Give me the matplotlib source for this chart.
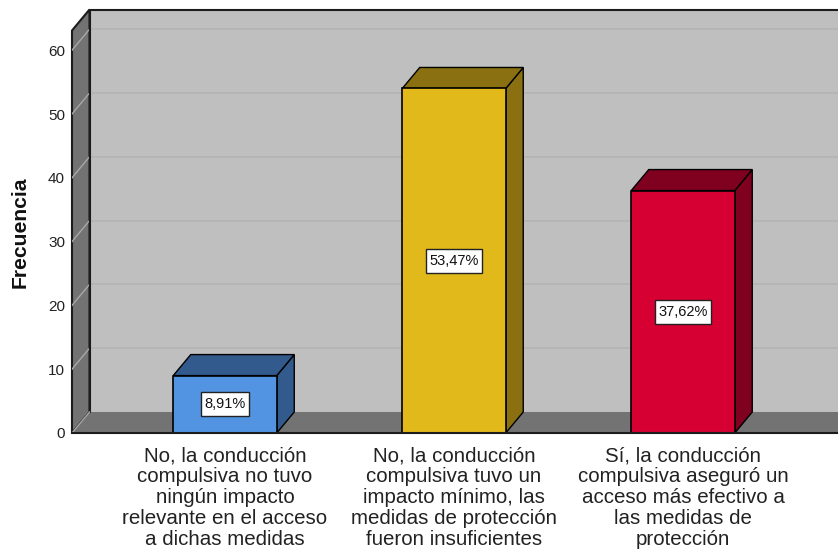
import matplotlib
matplotlib.use('Agg')
import matplotlib.pyplot as plt
from matplotlib.patches import Polygon, Rectangle

plt.rcParams['font.family'] = ['Liberation Sans', 'DejaVu Sans']

# chart data
categories = [
    "No, la conducción\ncompulsiva no tuvo\nningún impacto\nrelevante en el acceso\na dichas medidas",
    "No, la conducción\ncompulsiva tuvo un\nimpacto mínimo, las\nmedidas de protección\nfueron insuficientes",
    "Sí, la conducción\ncompulsiva aseguró un\nacceso más efectivo a\nlas medidas de\nprotección",
]
frequencies = [9, 54, 38]
percent_labels = ["8,91%", "53,47%", "37,62%"]
y_ticks = [0, 10, 20, 30, 40, 50, 60]

front_colors = ['#5294E2', '#E1B91B', '#D60032']
shade_colors = ['#325A8C', '#8A7010', '#80001F']

W, H = 838, 549
X0, X1, Y0, YTOP = 72, 838, 433, 9.5   # plot box in pixels
PX_Y = 6.38   # pixels per frequency unit
PX_X = 229    # pixels per category step
CENTER0 = 225

# depth of the fake 3D box, in data units
dx = 17.5 / PX_X
dy = 21 / PX_Y
bar_w = 103.5 / PX_X
box_h = 24 / PX_Y

fig = plt.figure(figsize=(W / 100, H / 100), dpi=100)
ax = fig.add_axes([X0 / W, 1 - Y0 / H, (X1 - X0) / W, (Y0 - YTOP) / H])
xmin = (X0 - CENTER0) / PX_X
xmax = (X1 - CENTER0) / PX_X
ymax = (Y0 - YTOP) / PX_Y
ax.set_xlim(xmin, xmax)
ax.set_ylim(0, ymax)
ax.set_facecolor('white')
for s in ax.spines.values():
    s.set_visible(False)

edge = '#1c1c1c'
ytop_front = ymax - dy

# back wall, side wall, floor
ax.add_patch(Polygon([(xmin + dx, dy), (xmax, dy), (xmax, ymax), (xmin + dx, ymax)],
                     fc='#BFBFBF', ec='none', zorder=1))
ax.add_patch(Polygon([(xmin, 0), (xmin + dx, dy), (xmin + dx, ymax), (xmin, ytop_front)],
                     fc='#737373', ec=edge, lw=1.5, zorder=2, clip_on=False))
ax.add_patch(Polygon([(xmin, 0), (xmax, 0), (xmax, dy), (xmin + dx, dy)],
                     fc='#737373', ec='none', zorder=2, clip_on=False))

# gridlines on the back wall and their continuation on the side wall
for t in y_ticks[1:]:
    ax.plot([xmin + dx, xmax], [t + dy, t + dy], color='#B2B2B2', lw=1.1, zorder=1.5)
    ax.plot([xmin, xmin + dx], [t, t + dy], color='#A8A8A8', lw=1.0, zorder=3)

ax.plot([xmin + dx, xmax], [ymax, ymax], color=edge, lw=1.5, zorder=3, clip_on=False)
ax.plot([xmin, xmax], [0, 0], color=edge, lw=1.5, zorder=6, clip_on=False)
ax.plot([xmin + dx, xmin + dx], [dy, ymax], color=edge, lw=1.5, zorder=3)
ax.plot([xmin, xmin + dx], [0, dy], color='#A8A8A8', lw=1, zorder=3)

# bars
xpos = list(range(len(frequencies)))
ax.bar(xpos, frequencies, width=bar_w, color=front_colors, edgecolor='black', linewidth=1.2, zorder=5)
renderer = fig.canvas.get_renderer()
for i, v in enumerate(frequencies):
    l = i - bar_w / 2
    r = i + bar_w / 2
    ax.add_patch(Polygon([(r, 0), (r + dx, dy), (r + dx, v + dy), (r, v)],
                         fc=shade_colors[i], ec='black', lw=1.0, zorder=4))
    ax.add_patch(Polygon([(l, v), (l + dx, v + dy), (r + dx, v + dy), (r, v)],
                         fc=shade_colors[i], ec='black', lw=1.0, zorder=4))
    txt = ax.text(i, v / 2, percent_labels[i], ha='center', va='center', fontsize=10.5, color='#111111', zorder=8)
    # label box follows the text width
    box_w = (txt.get_window_extent(renderer).width + 6) / PX_X
    ax.add_patch(Rectangle((i - box_w / 2, v / 2 - box_h / 2), box_w, box_h,
                           fc='white', ec='#222222', lw=1, zorder=7))

ax.set_yticks(y_ticks)
ax.set_xticks(xpos)
ax.set_xticklabels(categories, fontsize=14.8, color='#222222', linespacing=1.135)
ax.tick_params(axis='y', length=0, pad=5, labelsize=11, labelcolor='#222222')
ax.tick_params(axis='x', length=0, pad=9.5)
ax.set_ylabel("Frecuencia", fontsize=15.2, fontweight='bold', color='#111111', va='center')
ax.yaxis.set_label_coords((20 - X0) / (X1 - X0), (Y0 - 232) / (Y0 - YTOP))

fig.savefig('out.png', dpi=100)
